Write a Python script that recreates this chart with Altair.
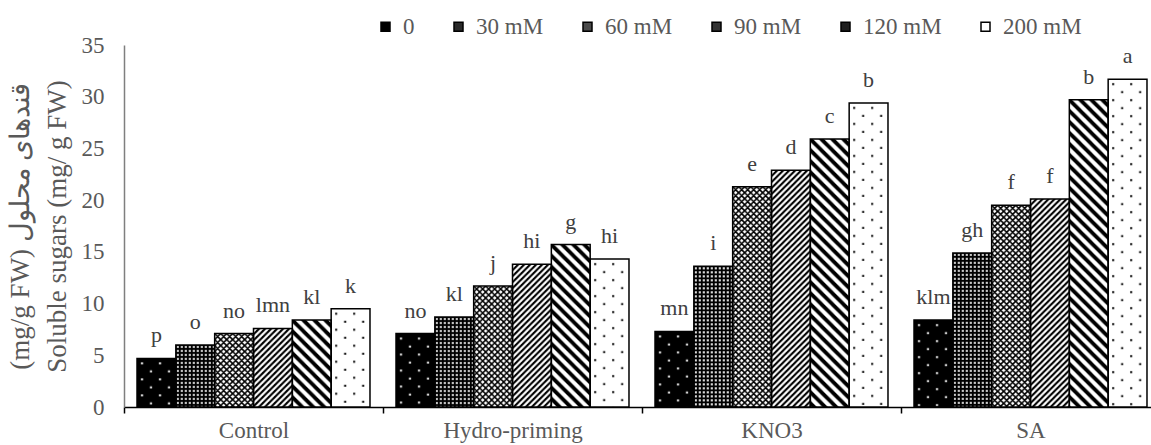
import base64
import altair as alt
import pandas as pd

# ---------------- data ----------------
groups = ["Control", "Hydro-priming", "KNO3", "SA"]
treatments = ["0", "30 mM", "60 mM", "90 mM", "120 mM", "200 mM"]

control_vals = [4.7, 6.0, 7.1, 7.6, 8.4, 9.5]
hydro_vals = [7.1, 8.7, 11.7, 13.8, 15.7, 14.3]
kno3_vals = [7.3, 13.6, 21.3, 22.9, 25.9, 29.4]
sa_vals = [8.4, 14.9, 19.5, 20.1, 29.7, 31.7]

control_letters = ["p", "o", "no", "lmn", "kl", "k"]
hydro_letters = ["no", "kl", "j", "hi", "g", "hi"]
kno3_letters = ["mn", "i", "e", "d", "c", "b"]
sa_letters = ["klm", "gh", "f", "f", "b", "a"]

y_ticks = [0, 5, 10, 15, 20, 25, 30, 35]

# ---------------- fill patterns (textures) ----------------
def pattern_uri(w, h, bg, body):
    svg = (
        '<svg xmlns="http://www.w3.org/2000/svg" width="100%" height="100%">'
        '<defs><pattern id="p" patternUnits="userSpaceOnUse" '
        f'width="{w}" height="{h}">'
        f'<rect width="{w}" height="{h}" fill="{bg}"/>{body}</pattern></defs>'
        '<rect width="100%" height="100%" fill="url(#p)"/></svg>'
    )
    return "data:image/svg+xml;base64," + base64.b64encode(svg.encode()).decode()

patterns = {
    "0": pattern_uri(18, 16, "#000",
                     '<rect x="4" y="4" width="2" height="2" fill="#fff"/>'
                     '<rect x="13" y="12" width="2" height="2" fill="#fff"/>'),
    "30 mM": pattern_uri(4, 4, "#000",
                         '<rect x="1" y="1" width="2" height="2" fill="#fff"/>'),
    "60 mM": pattern_uri(6, 6, "#fff",
                         '<path d="M-3,-3 L9,9 M-3,3 L3,9 M3,-3 L9,3 '
                         'M-3,9 L9,-3 M-3,3 L3,-3 M3,9 L9,3" '
                         'stroke="#000" stroke-width="1.6"/>'),
    "90 mM": pattern_uri(6, 6, "#fff",
                         '<path d="M-3,3 L3,-3 M-3,9 L9,-3 M3,9 L9,3" '
                         'stroke="#000" stroke-width="2.1"/>'),
    "120 mM": pattern_uri(11, 11, "#fff",
                          '<path d="M-5.5,-5.5 L16.5,16.5 M5.5,-5.5 L16.5,5.5 '
                          'M-5.5,5.5 L5.5,16.5" stroke="#000" stroke-width="3.8"/>'),
    "200 mM": pattern_uri(18, 16, "#fff",
                          '<rect x="4" y="4" width="2" height="2" fill="#000"/>'
                          '<rect x="13" y="12" width="2" height="2" fill="#000"/>'),
}

legend_colors = ["#000000", "#2a2a2a", "#4a4a4a", "#333333", "#1e1e1e", "#ffffff"]

rows = []
for g, vals, lets in zip(groups,
                         [control_vals, hydro_vals, kno3_vals, sa_vals],
                         [control_letters, hydro_letters, kno3_letters, sa_letters]):
    for t, v, l in zip(treatments, vals, lets):
        rows.append({"g": g, "t": t, "v": v, "letter": l, "pat": patterns[t]})
df = pd.DataFrame(rows)

FONT = "Liberation Serif"
GREY = "#595959"

x_enc = alt.X(
    "g:N", sort=groups,
    scale=alt.Scale(paddingInner=0, paddingOuter=0, range=[0, 1036]),
    axis=alt.Axis(
        title=None, labelAngle=0, tickBand="extent", grid=False,
        domainColor="#000000", domainWidth=1.5,
        tickColor="#000000", tickWidth=1.5, tickSize=6,
        labelFont=FONT, labelFontSize=23, labelColor=GREY, labelPadding=6,
    ),
)
xoff_enc = alt.XOffset("t:N", sort=treatments,
                       scale=alt.Scale(paddingInner=0, paddingOuter=0.335))
y_enc = alt.Y(
    "v:Q",
    scale=alt.Scale(domain=[0, 35], nice=False),
    axis=alt.Axis(
        values=y_ticks, ticks=False, grid=False,
        domainColor="#7f7f7f", domainWidth=1.5,
        labelFont=FONT, labelFontSize=23, labelColor=GREY, labelPadding=20,
        title=["(mg/g FW) قندهای محلول", "Soluble sugars (mg/ g FW)"],
        titleFont=FONT, titleFontSize=27, titleFontWeight="normal",
        titleColor=GREY, titleLineHeight=37,
        titleX=-117, titleY=181, titleBaseline="top",
    ),
)

base = alt.Chart(df).encode(x=x_enc, xOffset=xoff_enc, y=y_enc)

bars = base.mark_bar().encode(
    color=alt.Color(
        "t:N", sort=treatments,
        scale=alt.Scale(domain=treatments, range=legend_colors),
        legend=alt.Legend(
            title=None, orient="none", direction="horizontal",
            legendX=250, legendY=-30, padding=0,
            symbolType="square", symbolSize=81,
            symbolStrokeColor="#000000", symbolStrokeWidth=1.5,
            labelFont=FONT, labelFontSize=23, labelColor=GREY,
            labelFontWeight="normal",
            labelOffset=6, columnPadding=32,
        ),
    )
)

textures = base.mark_image(aspect=False).encode(url=alt.Url("pat:N"))

outlines = base.mark_bar(fillOpacity=0, stroke="#000000", strokeWidth=1.5)

letters = base.mark_text(
    baseline="alphabetic", dy=-16, font=FONT, fontSize=22, color="#404040"
).encode(text="letter:N")

chart = (
    alt.layer(bars, textures, outlines, letters)
    .properties(
        width=1027, height=362,
        autosize=alt.AutoSizeParams(type="none"),
        padding={"left": 124, "top": 45, "right": 0, "bottom": 38},
        background="white",
    )
    .configure_view(strokeWidth=0)
)

chart.save("out.html", embed_options={"renderer": "svg", "actions": False})
